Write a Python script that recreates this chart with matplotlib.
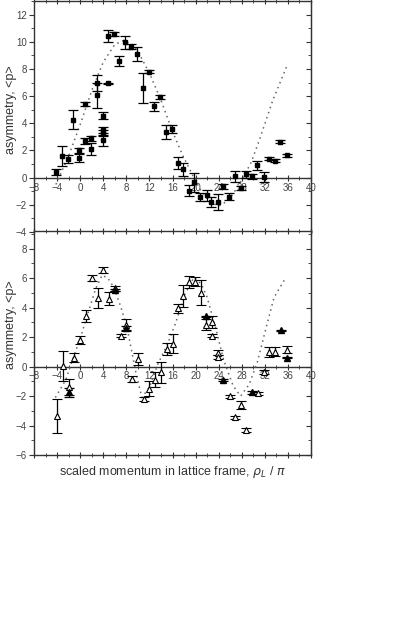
import matplotlib
matplotlib.use("Agg")
import matplotlib.pyplot as plt
from matplotlib.ticker import MultipleLocator

plt.rcParams['font.family'] = ['Liberation Sans', 'DejaVu Sans']

# top panel: filled squares
top_x = [-4.2, -3.1, -2.1, -1.2, -0.2, -0.2, 0.9, 0.9, 1.85, 1.85, 2.9, 2.9,
         3.9, 3.9, 3.9, 3.9, 4.9, 4.9, 5.9, 6.8, 7.8, 8.8, 9.8, 10.9, 11.9,
         12.8, 13.9, 14.9, 15.9, 16.9, 17.8, 18.8, 19.8, 20.8, 21.9, 22.7,
         23.8, 24.8, 25.8, 26.8, 27.8, 28.8, 29.7, 30.7, 31.8, 32.8, 33.8,
         34.7, 35.8]
top_y = [0.4, 1.6, 1.35, 4.25, 2.0, 1.43, 5.45, 2.7, 2.9, 2.1, 6.95, 6.05,
         4.55, 3.5, 3.3, 2.75, 6.95, 10.45, 10.55, 8.6, 9.95, 9.65, 9.1, 6.6,
         7.8, 5.25, 5.95, 3.35, 3.55, 1.1, 0.6, -0.95, -0.35, -1.45, -1.3,
         -1.8, -1.8, -0.65, -1.4, 0.1, -0.75, 0.25, 0.1, 0.9, 0.05, 1.4, 1.25,
         2.65, 1.65]
top_err = [0.2, 0.75, 0.3, 0.7, 0.2, 0.3, 0.15, 0.2, 0.2, 0.45, 0.6, 0.9,
           0.25, 0.25, 0.2, 0.4, 0.05, 0.45, 0.15, 0.35, 0.5, 0.2, 0.5, 1.1,
           0.1, 0.35, 0.15, 0.5, 0.3, 0.45, 0.5, 0.4, 0.7, 0.3, 0.4, 0.35,
           0.6, 0.15, 0.25, 0.4, 0.15, 0.25, 0.2, 0.35, 0.4, 0.1, 0.1, 0.1,
           0.1]
top_curve_x = [-4.2, -2, 0, 2, 4, 6, 7.5, 9, 10, 12, 14, 16, 17.7, 19.7,
               21, 22.5, 24, 25.2, 26.5, 28, 29.6, 31, 33.3, 35.8]
top_curve_y = [-0.5, 1.6, 3.9, 6.4, 8.5, 9.8, 10.1, 9.8, 9.3, 7.7, 5.7, 3.4,
               1.7, 0.0, -1.0, -1.8, -2.1, -1.8, -1.2, -0.2, 1.1, 2.7, 5.6, 8.2]

# bottom panel: open triangles
bot_x = [-4.0, -3.05, -2.0, -1.0, 0.05, 1.0, 2.0, 3.05, 4.0, 5.0, 6.0, 7.0,
         7.95, 8.9, 10.0, 11.0, 12.0, 13.0, 14.0, 15.0, 16.0, 17.0, 17.9,
         18.9, 19.9, 20.9, 21.8, 22.9, 22.9, 23.8, 23.8, 25.9, 26.8, 27.8,
         28.8, 30.8, 31.8, 32.8, 33.8, 35.8]
bot_y = [-3.38, 0.05, -1.4, 0.6, 1.8, 3.45, 6.0, 4.65, 6.55, 4.6, 5.3, 2.1,
         2.8, -0.85, 0.5, -2.2, -1.5, -0.9, -0.4, 1.2, 1.55, 3.95, 4.8,
         5.75, 5.75, 5.0, 2.85, 3.0, 2.1, 0.95, 0.65, -2.0, -3.45, -2.6,
         -4.3, -1.8, -0.35, 1.0, 1.0, 1.15]
bot_err = [1.15, 1.0, 0.55, 0.3, 0.3, 0.4, 0.2, 0.65, 0.2, 0.45, 0.15, 0.1,
           0.4, 0.2, 0.4, 0.15, 0.5, 0.5, 0.7, 0.4, 0.65, 0.3, 0.75, 0.4,
           0.3, 0.85, 0.4, 0.4, 0.1, 0.15, 0.15, 0.1, 0.1, 0.25, 0.15, 0.1,
           0.15, 0.35, 0.3, 0.25]
# bottom panel: filled markers
fill_x = [-2.0, 6.0, 7.95, 21.8, 24.8, 29.8, 34.8, 35.8]
fill_y = [-1.75, 5.2, 2.6, 3.4, -0.9, -1.75, 2.45, 0.6]
fill_err = [0.3, 0.05, 0.15, 0.05, 0.05, 0.1, 0.05, 0.05]
bot_curve_x = [-4.3, -2.5, -1.2, 0, 1.5, 2.7, 3.8, 4.8, 5.8, 7, 8.1, 9.6,
               10.7, 12, 13.5, 15, 16.5, 18, 19.7, 21, 22, 23.5, 24.9, 26.5,
               27.8, 29.3, 30.7, 32.2, 33.6, 35.5]
bot_curve_y = [-2.1, -0.9, 0.6, 1.9, 3.8, 5.3, 6.2, 6.0, 5.4, 4.1, 2.7, -0.3,
               -2.1, -1.4, 0.2, 1.4, 2.9, 4.8, 6.05, 5.6, 4.7, 2.6, 0.4, -1.3,
               -2.0, -1.2, 0.3, 2.6, 4.7, 5.95]

W, H = 415, 617
fig = plt.figure(figsize=(W / 100, H / 100), dpi=100)
left = 34 / W
width = (311 - 34) / W
ax1 = fig.add_axes([left, 1 - 232 / H, width, 231 / H])
ax2 = fig.add_axes([left, 1 - 455 / H, width, 224 / H])

axcol = '#333333'
dotcol = '#666666'


def style(ax, ylo, yhi, label_y):
    ax.set_xlim(-8, 40)
    ax.set_ylim(ylo, yhi)
    for s in ax.spines.values():
        s.set_color(axcol)
        s.set_linewidth(1.0)
    ax.axhline(0, color=axcol, lw=1.0, zorder=1)
    ax.xaxis.set_major_locator(MultipleLocator(4))
    ax.xaxis.set_minor_locator(MultipleLocator(2))
    ax.yaxis.set_major_locator(MultipleLocator(2))
    ax.yaxis.set_minor_locator(MultipleLocator(1))
    ax.tick_params(axis='x', which='both', direction='inout', top=True,
                   bottom=True, labelbottom=False, color=axcol)
    ax.tick_params(axis='x', which='major', length=5)
    ax.tick_params(axis='x', which='minor', length=3)
    ax.tick_params(axis='y', which='both', direction='out', left=True,
                   right=False, labelsize=7, labelcolor='#444444',
                   color=axcol, pad=1.5)
    ax.tick_params(axis='y', which='major', length=3.5)
    ax.tick_params(axis='y', which='minor', length=2)
    # right side ticks inward
    r = ax.secondary_yaxis('right')
    r.yaxis.set_major_locator(MultipleLocator(2))
    r.yaxis.set_minor_locator(MultipleLocator(1))
    r.tick_params(which='both', direction='in', labelright=False, color=axcol)
    r.tick_params(which='major', length=3.5)
    r.tick_params(which='minor', length=2)
    r.spines['right'].set_color(axcol)
    # x labels along the zero line
    z = ax.secondary_xaxis((0 - ylo) / (yhi - ylo))
    z.xaxis.set_major_locator(MultipleLocator(4))
    z.xaxis.set_minor_locator(MultipleLocator(2))
    z.tick_params(which='both', direction='inout', labelsize=7,
                  labelcolor='#444444', color=axcol, pad=1)
    z.tick_params(which='major', length=5)
    z.tick_params(which='minor', length=3)
    z.spines['bottom'].set_visible(False)
    ax.set_ylabel('asymmetry, <p>', fontsize=9, color='#333333')
    ax.yaxis.set_label_coords(-0.062, label_y)


style(ax1, -4, 13, 0.53)
ax1.plot(top_curve_x, top_curve_y, color=dotcol, lw=1.1,
         linestyle=(0, (1, 2.5)), zorder=2)
ax1.errorbar(top_x, top_y, yerr=top_err, fmt='s', color='black',
             ms=3.5, capsize=3.5, elinewidth=0.9, capthick=0.9, zorder=3)

style(ax2, -6, 9.2, 0.58)
ax2.plot(bot_curve_x, bot_curve_y, color=dotcol, lw=1.1,
         linestyle=(0, (1, 2.5)), zorder=2)
ax2.errorbar(bot_x, bot_y, yerr=bot_err, fmt='^', color='black',
             mfc='white', mec='black', ms=4.5, mew=0.8, capsize=3.5,
             elinewidth=0.9, capthick=0.9, zorder=3)
ax2.errorbar(fill_x, fill_y, yerr=fill_err, fmt='^', color='black',
             ms=4, capsize=3.5, elinewidth=0.9, capthick=0.9, zorder=3)
ax2.set_xlabel(r'scaled momentum in lattice frame, $\rho_L$ / $\pi$',
               fontsize=9, color='#333333', labelpad=4)

fig.savefig('out.png', dpi=100)
